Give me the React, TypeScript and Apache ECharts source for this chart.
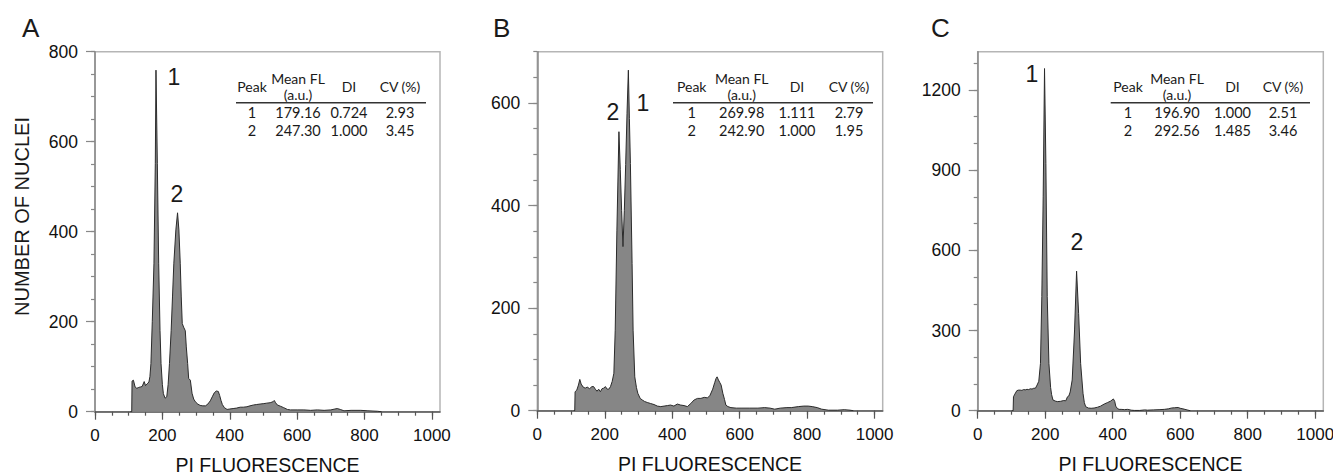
import React, { useEffect, useRef } from 'react';
import * as echarts from 'echarts';

// ---------- data ----------
const histA: [number, number][] = [
  [105, 0], [109, 0], [110, 68], [114, 70], [119, 55], [124, 52], [130, 54], [135, 55], [140, 56], [146, 67],
  [150, 58], [155, 62], [160, 66], [163, 78], [166, 107], [170, 200], [175, 330], [179, 552], [181, 759],
  [185, 552], [189, 330], [193, 180], [196, 107], [200, 60], [203, 40], [208, 30], [213, 33], [217, 60],
  [221, 107], [226, 180], [230, 255], [234, 330], [240, 404], [245, 442], [249, 404], [253, 330], [256, 255],
  [259, 196], [263, 188], [268, 180], [271, 144], [275, 107], [278, 74], [283, 70], [288, 41], [293, 28],
  [298, 22], [305, 17], [312, 14], [320, 13], [328, 13], [335, 17], [342, 24], [348, 33], [354, 42], [360, 46],
  [366, 45], [370, 36], [374, 25], [378, 16], [384, 9], [392, 5], [400, 6], [410, 7], [420, 8], [431, 10],
  [440, 10], [451, 11], [460, 13], [471, 15], [480, 16], [490, 17], [501, 18], [510, 19], [520, 20], [528, 22],
  [532, 25], [536, 20], [541, 15], [551, 12], [560, 9], [571, 5], [580, 4], [600, 4], [620, 4], [640, 3],
  [660, 4], [680, 3], [700, 4], [712, 6], [719, 7], [728, 5], [739, 2], [760, 3], [789, 3], [810, 2], [838, 1],
  [850, 0],
];

const histB: [number, number][] = [
  [108, 0], [111, 0], [112, 37], [117, 40], [122, 50], [126, 61], [130, 52], [136, 46], [142, 44], [148, 46],
  [155, 43], [162, 47], [167, 47], [172, 42], [177, 38], [182, 42], [187, 37], [192, 43], [197, 44], [202, 47],
  [207, 42], [212, 42], [217, 47], [222, 57], [227, 73], [231, 157], [236, 352], [242, 544], [246, 470],
  [250, 390], [254, 320], [258, 390], [262, 480], [266, 580], [270, 664], [273, 570], [276, 482], [281, 287],
  [284, 157], [289, 66], [294, 45], [298, 34], [305, 24], [311, 21], [318, 18], [326, 16], [336, 14], [346, 12],
  [356, 9], [366, 8], [376, 9], [386, 10], [395, 11], [405, 9], [415, 13], [425, 11], [435, 10], [445, 8],
  [455, 14], [465, 21], [475, 24], [485, 24], [495, 26], [505, 25], [512, 30], [520, 42], [526, 55], [530, 63],
  [533, 66], [537, 60], [541, 55], [545, 50], [550, 34], [555, 22], [559, 11], [565, 8], [574, 6], [590, 5],
  [604, 5], [630, 5], [654, 5], [674, 6], [690, 5], [704, 3], [720, 5], [740, 6], [753, 6], [774, 8], [790, 9],
  [803, 9], [815, 8], [830, 6], [843, 3], [863, 1], [890, 1], [910, 2], [927, 1], [937, 0],
];

const histC: [number, number][] = [
  [102, 0], [105, 0], [106, 52], [110, 62], [116, 75], [121, 77], [126, 77], [131, 76], [136, 79], [141, 78],
  [146, 80], [151, 79], [156, 82], [161, 81], [166, 84], [171, 84], [176, 96], [181, 110], [186, 177],
  [190, 427], [194, 800], [198, 1280], [202, 925], [206, 427], [211, 177], [216, 87], [219, 60], [223, 40],
  [230, 36], [236, 34], [245, 35], [255, 38], [261, 37], [266, 52], [270, 55], [274, 70], [280, 115], [287, 302],
  [293, 522], [299, 364], [305, 177], [312, 65], [316, 30], [320, 15], [328, 10], [336, 9], [345, 10], [355, 13],
  [364, 17], [375, 25], [384, 30], [394, 36], [402, 44], [406, 35], [409, 17], [414, 8], [419, 5], [425, 5],
  [435, 4], [444, 5], [455, 2], [464, 1], [480, 1], [495, 3], [503, 2], [520, 3], [540, 4], [553, 5], [565, 7],
  [574, 10], [583, 11], [594, 12], [600, 9], [608, 7], [614, 5], [623, 2], [630, 0],
];

const xMinorTicks = [0, 50, 100, 150, 200, 250, 300, 350, 400, 450, 500, 550, 600, 650, 700, 750, 800, 850, 900, 950, 1000];
const xMajorTicks = [0, 200, 400, 600, 800, 1000];
const yMinorA = [0, 50, 100, 150, 200, 250, 300, 350, 400, 450, 500, 550, 600, 650, 700, 750, 800];
const yMajorA = [0, 200, 400, 600, 800];
const yMinorB = [0, 50, 100, 150, 200, 250, 300, 350, 400, 450, 500, 550, 600, 650, 700];
const yMajorB = [0, 200, 400, 600];
const yMinorC = [0, 100, 200, 300, 400, 500, 600, 700, 800, 900, 1000, 1100, 1200, 1300];
const yMajorC = [0, 300, 600, 900, 1200];
const yMaxes = [800, 700, 1343];
const xMax = 1024;

const panelLetters = ['A', 'B', 'C'];
const xAxisTitle = 'PI FLUORESCENCE';
const yAxisTitle = 'NUMBER OF NUCLEI';
const tableHeader = ['Peak', 'Mean FL', '(a.u.)', 'DI', 'CV (%)'];
const tableA = [['1', '179.16', '0.724', '2.93'], ['2', '247.30', '1.000', '3.45']];
const tableB = [['1', '269.98', '1.111', '2.79'], ['2', '242.90', '1.000', '1.95']];
const tableC = [['1', '196.90', '1.000', '2.51'], ['2', '292.56', '1.485', '3.46']];
const peakLabelsA = ['1', '2'];
const peakLabelsB = ['2', '1'];
const peakLabelsC = ['1', '2'];

// ---------- layout ----------
const grids = [
  { left: 95, top: 51.7, width: 345, height: 360 },
  { left: 537.3, top: 51.7, width: 345.4, height: 359 },
  { left: 977.7, top: 51.7, width: 345.6, height: 359 },
];
const tableLayout = [
  { x1: 236, x2: 426, cols: [252, 298, 349, 400] },
  { x1: 673, x2: 873, cols: [691.7, 741.7, 797, 849] },
  { x1: 1110.7, x2: 1310, cols: [1128, 1177, 1232.5, 1283] },
];
const letterPos = [22, 493, 931];
const peakLabelPos = [
  [[174, 77], [177, 194]],
  [[613, 112], [643, 103]],
  [[1032, 74], [1077, 242]],
];

const FONT = '"Liberation Sans", Arial, Helvetica, sans-serif';
const TFONT = 'Lato, "Open Sans", sans-serif';

function txt(text: string, x: number, y: number, size: number, family: string, align = 'center', extra: any = {}) {
  return {
    type: 'text',
    x,
    y,
    ...extra,
    style: {
      text,
      fill: '#1a1a1a',
      font: `${size}px ${family}`,
      align,
      textAlign: align,
      verticalAlign: 'middle',
      textVerticalAlign: 'middle',
    },
  };
}

const plain = (v: number) => String(v);

export default function App() {
  const ref = useRef<HTMLDivElement>(null);
  useEffect(() => {
    if (!ref.current) return;
    const chart = echarts.init(ref.current, undefined, { renderer: 'svg' });
    const hists = [histA, histB, histC];
    const yMinors = [yMinorA, yMinorB, yMinorC];
    const yMajors = [yMajorA, yMajorB, yMajorC];
    const tables = [tableA, tableB, tableC];
    const peakLabels = [peakLabelsA, peakLabelsB, peakLabelsC];

    const xAxes: any[] = [];
    const yAxes: any[] = [];
    const series: any[] = [];
    const graphics: any[] = [];

    for (let i = 0; i < 3; i++) {
      xAxes.push({
        type: 'value', gridIndex: i, min: 0, max: xMax, position: 'bottom',
        axisLine: { show: true, lineStyle: { color: '#555', width: 1.5 } },
        axisTick: { show: true, length: 4, customValues: xMinorTicks, lineStyle: { color: '#555', width: 1.2 } },
        axisLabel: { show: true, customValues: xMajorTicks, formatter: plain, margin: 15, fontSize: 17, fontFamily: FONT, color: '#111' },
        splitLine: { show: false },
        name: xAxisTitle, nameLocation: 'middle', nameGap: 43,
        nameTextStyle: { fontSize: 19.5, fontFamily: FONT, color: '#111' },
      });
      xAxes.push({
        type: 'value', gridIndex: i, min: 0, max: xMax, position: 'bottom',
        axisLine: { show: false },
        axisTick: { show: true, length: 8, customValues: xMajorTicks, lineStyle: { color: '#555', width: 1.2 } },
        axisLabel: { show: false },
        splitLine: { show: false },
      });
      yAxes.push({
        type: 'value', gridIndex: i, min: 0, max: yMaxes[i], position: 'left',
        axisLine: { show: true, lineStyle: { color: '#888', width: 1.5 } },
        axisTick: { show: true, length: 4, customValues: yMinors[i], lineStyle: { color: '#888', width: 1.2 } },
        axisLabel: { show: true, customValues: yMajors[i], formatter: plain, margin: 17, fontSize: 17.5, fontFamily: FONT, color: '#111' },
        splitLine: { show: false },
      });
      yAxes.push({
        type: 'value', gridIndex: i, min: 0, max: yMaxes[i], position: 'left',
        axisLine: { show: false },
        axisTick: { show: true, length: 9, customValues: yMajors[i], lineStyle: { color: '#888', width: 1.2 } },
        axisLabel: { show: false },
        splitLine: { show: false },
      });
      series.push({
        type: 'line', xAxisIndex: 2 * i, yAxisIndex: 2 * i, data: hists[i],
        showSymbol: false, symbol: 'none', smooth: false,
        lineStyle: { color: '#2b2b2b', width: 1 },
        areaStyle: { color: '#868686', opacity: 1 },
        z: 3,
      });

      graphics.push(txt(panelLetters[i], letterPos[i], 28, 26, FONT, 'left'));
      peakLabels[i].forEach((lab, k) => {
        graphics.push(txt(lab, peakLabelPos[i][k][0], peakLabelPos[i][k][1], 23, FONT));
      });
      const tl = tableLayout[i];
      graphics.push(txt(tableHeader[0], tl.cols[0], 86, 14, TFONT));
      graphics.push(txt(tableHeader[1], tl.cols[1], 78, 14, TFONT));
      graphics.push(txt(tableHeader[2], tl.cols[1], 94, 14, TFONT));
      graphics.push(txt(tableHeader[3], tl.cols[2], 86, 14, TFONT));
      graphics.push(txt(tableHeader[4], tl.cols[3], 86, 14, TFONT));
      graphics.push({
        type: 'line',
        shape: { x1: tl.x1, y1: 102.7, x2: tl.x2, y2: 102.7 },
        style: { stroke: '#333', lineWidth: 1.5 },
      });
      tables[i].forEach((row, r) => {
        row.forEach((cell, c) => {
          graphics.push(txt(cell, tl.cols[c], 112.5 + r * 18, 14.5, TFONT));
        });
      });
    }

    graphics.push(txt(yAxisTitle, 22, 216.5, 20, FONT, 'center', { rotation: Math.PI / 2 }));

    chart.setOption({
      animation: false,
      backgroundColor: '#fff',
      grid: grids.map((g) => ({
        ...g, show: true, borderColor: '#b5b5b5', borderWidth: 1.5, backgroundColor: 'transparent',
        containLabel: false, outerBoundsMode: 'none',
      })),
      xAxis: xAxes,
      yAxis: yAxes,
      series,
      graphic: { elements: graphics },
    });
    return () => chart.dispose();
  }, []);
  return <div ref={ref} style={{ position: 'fixed', left: 0, top: 0, width: 1333, height: 475 }} />;
}
